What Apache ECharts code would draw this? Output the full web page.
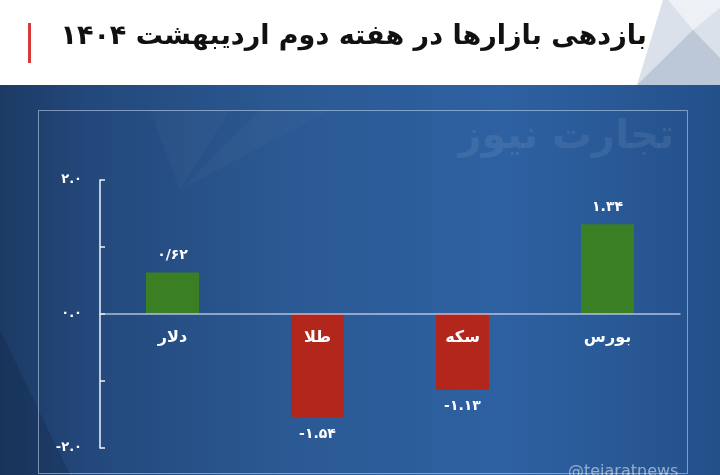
<!DOCTYPE html>
<html><head><meta charset="utf-8">
<script src="https://cdn.jsdelivr.net/npm/echarts@6/dist/echarts.min.js"></script>
<style>html,body{margin:0;padding:0;background:#fff}#c{width:720px;height:475px}</style>
</head><body><div id="c"></div>
<script>
const titleText = 'بازدهی بازارها در هفته دوم اردیبهشت ۱۴۰۴';
const categories = ['دلار', 'طلا', 'سکه', 'بورس'];
const values = [0.62, -1.54, -1.13, 1.34];
const valueLabels = ['۰/۶۲', '-۱.۵۴', '-۱.۱۳', '۱.۳۴'];
const yTickLabels = {'2': '۲.۰', '0': '۰.۰', '-2': '-۲.۰'};
const GREEN = '#3a7f23', RED = '#b3261c';
const FONT = '"DejaVu Sans", sans-serif';
const Y_MIN = -2, Y_MAX = 2;
const GRID = {left: 100, right: 40, top: 180, bottom: 27};
// offset of the category axis so that it sits on the value 0
const plotH = 475 - GRID.top - GRID.bottom;
const zeroOffset = -plotH * (0 - Y_MIN) / (Y_MAX - Y_MIN);

const chart = echarts.init(document.getElementById('c'), null, {renderer: 'canvas'});
chart.setOption({
  animation: false,
  backgroundColor: '#ffffff',
  title: {
    text: titleText, right: 68, top: 18,
    textStyle: {fontFamily: FONT, fontWeight: 'bold', fontSize: 27, color: '#111'}
  },
  graphic: [
    {type: 'polygon', shape: {points: [[663,0],[720,0],[720,85],[637,85]]}, style: {fill: '#dae1ea'}, z: -1},
    {type: 'polygon', shape: {points: [[668,0],[720,0],[720,8],[693,30]]}, style: {fill: '#edf0f4'}, z: -1},
    {type: 'polygon', shape: {points: [[693,30],[720,58],[720,85],[637,85]]}, style: {fill: '#bcc8d8'}, z: -1},
    {type: 'rect', shape: {x: 28, y: 23, width: 3, height: 40}, style: {fill: '#d83a3c'}},
    {type: 'rect', shape: {x: 0, y: 85, width: 720, height: 390}, z: -2,
      style: {fill: new echarts.graphic.LinearGradient(0, 0, 1, 0, [
        {offset: 0, color: '#1c3a64'}, {offset: 0.12, color: '#23487b'}, {offset: 0.4, color: '#2b5993'},
        {offset: 0.7, color: '#2e61a2'}, {offset: 1, color: '#24508a'}])}},
    {type: 'polygon', shape: {points: [[0,330],[0,475],[70,475]]}, style: {fill: 'rgba(10,30,60,0.25)'}, z: -1},
    {type: 'polygon', shape: {points: [[150,110],[230,110],[180,190]]}, style: {fill: 'rgba(255,255,255,0.025)'}, z: -1},
    {type: 'polygon', shape: {points: [[180,190],[260,110],[330,110]]}, style: {fill: 'rgba(255,255,255,0.025)'}, z: -1},
    {type: 'rect', shape: {x: 38.5, y: 110.5, width: 649, height: 363}, style: {fill: 'none', stroke: 'rgba(200,220,245,0.55)', lineWidth: 1}},
    {type: 'text', right: 46, top: 118, style: {text: 'تجارت نیوز', font: 'bold 40px ' + FONT, fill: 'rgba(255,255,255,0.08)'}},
    {type: 'text', left: 568, top: 464, style: {text: '@tejaratnews', font: '16px ' + FONT, fill: 'rgba(255,255,255,0.5)'}}
  ],
  grid: GRID,
  xAxis: {
    type: 'category', data: categories, z: 10, position: 'bottom', offset: zeroOffset,
    axisLine: {onZero: false, lineStyle: {color: 'rgba(220,230,245,0.75)', width: 1.5}},
    axisTick: {show: false},
    axisLabel: {color: '#fff', fontFamily: FONT, fontWeight: 'bold', fontSize: 16, margin: 16}
  },
  yAxis: {
    type: 'value', min: Y_MIN, max: Y_MAX, interval: 1,
    splitLine: {show: false},
    axisLine: {show: true, lineStyle: {color: '#f0f4fa', width: 1.5}},
    axisTick: {show: true, inside: true, length: 5, lineStyle: {color: '#f0f4fa', width: 1.5}},
    axisLabel: {color: '#fff', fontFamily: FONT, fontWeight: 'bold', fontSize: 13, margin: 18,
      formatter: v => yTickLabels[String(v)] || ''}
  },
  series: [{
    type: 'bar', barWidth: 53,
    data: values.map((v, i) => ({
      value: v,
      itemStyle: {color: v >= 0 ? GREEN : RED},
      label: {show: true, position: v >= 0 ? 'top' : 'bottom', distance: 10,
        formatter: valueLabels[i], color: '#fff', fontFamily: FONT, fontWeight: 'bold', fontSize: 14}
    }))
  }]
});
</script></body></html>
